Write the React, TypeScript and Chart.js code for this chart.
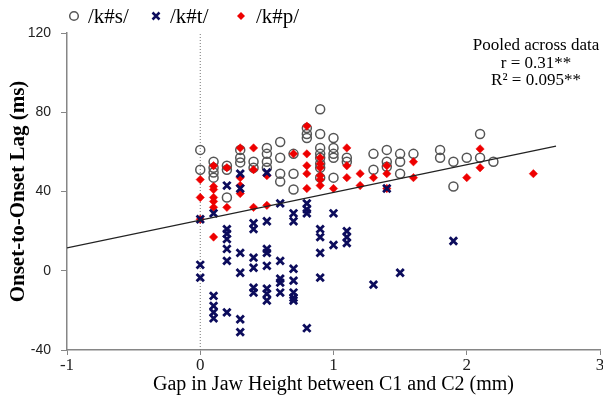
import React, { useEffect, useRef } from 'react';
import { Chart, registerables } from 'chart.js';
Chart.register(...registerables);

// /k#s/ (circles)
const sGap = [0, 0, 0.1, 0.1, 0.1, 0.1, 0.2, 0.2, 0.2, 0.3, 0.3, 0.3, 0.4, 0.4, 0.5, 0.5, 0.5, 0.5, 0.6, 0.6, 0.6, 0.6, 0.7, 0.7, 0.7, 0.8, 0.8, 0.8, 0.9, 0.9, 0.9, 0.9, 0.9, 0.9, 0.9, 0.9, 1.0, 1.0, 1.0, 1.0, 1.0, 1.1, 1.1, 1.3, 1.3, 1.4, 1.4, 1.4, 1.5, 1.5, 1.5, 1.6, 1.8, 1.8, 1.9, 1.9, 2.0, 2.1, 2.1, 2.2];
const sLag = [61, 51, 55, 52, 49.6, 47, 53, 51, 37, 61, 57, 54.7, 55, 52, 62, 59, 55, 52, 65, 57, 49, 45, 59, 49, 41, 72, 69, 67, 81.5, 69, 62, 59, 57, 54, 52, 47, 67, 62, 59, 57, 47, 57, 55, 59, 51, 61, 55, 52.5, 59, 55, 49, 59, 61, 57, 55, 42.5, 57, 69, 57, 55];

// /k#t/ (crosses)
const tGap = [0, 0, 0, 0.1, 0.1, 0.1, 0.1, 0.1, 0.2, 0.2, 0.2, 0.2, 0.2, 0.2, 0.2, 0.3, 0.3, 0.3, 0.3, 0.3, 0.3, 0.4, 0.4, 0.4, 0.4, 0.4, 0.4, 0.5, 0.5, 0.5, 0.5, 0.5, 0.5, 0.5, 0.5, 0.6, 0.6, 0.6, 0.6, 0.6, 0.7, 0.7, 0.7, 0.7, 0.7, 0.7, 0.7, 0.8, 0.8, 0.8, 0.8, 0.9, 0.9, 0.9, 0.9, 1.0, 1.0, 1.1, 1.1, 1.1, 1.3, 1.4, 1.5, 1.9];
const tLag = [26, 3, -3.5, 29, -12.7, -17.7, -21, -24, 43, 21, 18.7, 16, 11, 5, -21, 49, 41.5, 9, -1, -24.5, -31, 24, 21, 6.6, 1.5, -8.6, -11, 49.6, 25, 11, 9, 2.5, -9, -11.6, -15, 34, 5, -4, -6, -11, 29, 25, 1, -5, -11, -13.6, -15, 34, 31, 29, -29, 21, 17, 9, -3.5, 29, 13, 20, 17, 14, -7, 41.5, -1, 15];

// /k#p/ (diamonds)
const pGap = [0, 0, 0, 0.1, 0.1, 0.1, 0.1, 0.1, 0.1, 0.1, 0.2, 0.2, 0.3, 0.3, 0.3, 0.3, 0.4, 0.4, 0.4, 0.5, 0.5, 0.7, 0.8, 0.8, 0.8, 0.8, 0.8, 0.9, 0.9, 0.9, 0.9, 0.9, 0.9, 1.0, 1.1, 1.1, 1.1, 1.2, 1.2, 1.3, 1.4, 1.4, 1.4, 1.6, 1.6, 2.0, 2.1, 2.1, 2.5];
const pLag = [46, 37, 26, 53, 42.5, 41, 37, 35, 32, 17, 52, 32, 62, 47, 43, 39, 62, 51, 32, 48, 33, 59, 73, 59, 53, 49, 41.5, 57, 54, 52, 48, 46, 43, 41.5, 62, 53, 47, 49, 43, 47, 53, 49, 41.5, 55, 47, 47, 61.5, 52, 49];

// pooled regression line
const fitIntercept = 25.5;
const fitSlope = 14;
const fitRange = [-1, 2.67];

const xTicks = [-1, 0, 1, 2, 3];
const yTicks = [-40, 0, 40, 80, 120];

const seriesNames = ['/k#s/', '/k#t/', '/k#p/'];
const statLines = ['Pooled across data', 'r = 0.31**', 'R\u00B2 = 0.095**'];

const CIRCLE = '#555555';
const CROSS = '#0c0c5c';
const DIAMOND = '#ee0000';

const pts = (xs: number[], ys: number[]) => xs.map((x, i) => ({ x, y: ys[i] }));

const legendPlugin = {
  id: 'customLegend',
  afterDraw(chart: any) {
    const ctx = chart.ctx;
    ctx.save();
    ctx.font = '21px "Liberation Serif"';
    ctx.textBaseline = 'middle';
    ctx.textAlign = 'left';
    ctx.fillStyle = '#000';
    const cy = 16;
    const items = [
      { mx: 74, tx: 88, kind: 'circle' },
      { mx: 156, tx: 170, kind: 'cross' },
      { mx: 241, tx: 256, kind: 'diamond' },
    ];
    items.forEach((it, i) => {
      if (it.kind === 'circle') {
        ctx.beginPath();
        ctx.strokeStyle = CIRCLE;
        ctx.lineWidth = 1.5;
        ctx.arc(it.mx, cy, 4.3, 0, Math.PI * 2);
        ctx.stroke();
      } else if (it.kind === 'cross') {
        ctx.beginPath();
        ctx.strokeStyle = CROSS;
        ctx.lineWidth = 2.5;
        ctx.moveTo(it.mx - 3.5, cy - 3.5);
        ctx.lineTo(it.mx + 3.5, cy + 3.5);
        ctx.moveTo(it.mx + 3.5, cy - 3.5);
        ctx.lineTo(it.mx - 3.5, cy + 3.5);
        ctx.stroke();
      } else {
        ctx.beginPath();
        ctx.fillStyle = DIAMOND;
        ctx.moveTo(it.mx - 4, cy);
        ctx.lineTo(it.mx, cy - 4);
        ctx.lineTo(it.mx + 4, cy);
        ctx.lineTo(it.mx, cy + 4);
        ctx.closePath();
        ctx.fill();
      }
      ctx.fillStyle = '#000';
      ctx.fillText(seriesNames[i], it.tx, cy + 1);
    });
    // stats annotation
    ctx.font = '17px "Liberation Serif"';
    ctx.textAlign = 'center';
    const ax = 536;
    statLines.forEach((s, i) => ctx.fillText(s, ax, 46 + i * 17.5));
    ctx.restore();
  },
};

export default function App() {
  const ref = useRef<HTMLCanvasElement>(null);
  useEffect(() => {
    const fitData = fitRange.map((x) => ({ x, y: fitIntercept + fitSlope * x }));
    const chart = new Chart(ref.current!, {
      type: 'scatter',
      data: {
        datasets: [
          {
            label: seriesNames[1],
            data: pts(tGap, tLag),
            pointStyle: 'crossRot',
            radius: 5.2,
            borderWidth: 2.8,
            borderColor: CROSS,
            backgroundColor: CROSS,
            order: 0,
          },
          {
            label: seriesNames[2],
            data: pts(pGap, pLag),
            pointStyle: 'rectRot',
            radius: 4.2,
            borderWidth: 0.5,
            borderColor: DIAMOND,
            backgroundColor: DIAMOND,
            order: 1,
          },
          {
            label: seriesNames[0],
            data: pts(sGap, sLag),
            pointStyle: 'circle',
            radius: 4.5,
            borderWidth: 1.5,
            borderColor: CIRCLE,
            backgroundColor: 'rgba(0,0,0,0)',
            order: 2,
          },
          {
            label: 'fit',
            type: 'line',
            data: fitData,
            showLine: true,
            borderColor: '#222',
            borderWidth: 1.2,
            pointRadius: 0,
            order: -1,
          },
          {
            label: 'zero',
            type: 'line',
            data: [{ x: 0, y: -40 }, { x: 0, y: 120 }],
            showLine: true,
            borderColor: '#777',
            borderWidth: 1,
            borderDash: [1, 2],
            pointRadius: 0,
            order: 5,
          },
        ],
      },
      options: {
        animation: false,
        responsive: true,
        maintainAspectRatio: false,
        layout: { autoPadding: false, padding: { top: 33, right: 3, left: 0, bottom: 0 } },
        plugins: { legend: { display: false }, tooltip: { enabled: false } },
        scales: {
          x: {
            type: 'linear',
            min: -1,
            max: 3,
            afterBuildTicks: (s: any) => { s.ticks = xTicks.map((v) => ({ value: v })); },
            afterFit: (s: any) => { s.height = 50; s.paddingLeft = 0; s.paddingRight = 0; },
            grid: { drawOnChartArea: false, tickLength: 5, color: '#868686' },
            border: { color: '#868686', width: 1.5 },
            ticks: { font: { family: 'Liberation Serif', size: 17 }, color: '#222', padding: 0, maxRotation: 0 },
            title: { display: true, text: 'Gap in Jaw Height between C1 and C2 (mm)', font: { family: 'Liberation Serif', size: 20 }, color: '#000', padding: { top: 3, bottom: 3 } },
          },
          y: {
            type: 'linear',
            min: -40,
            max: 120,
            afterBuildTicks: (s: any) => { s.ticks = yTicks.map((v) => ({ value: v })); },
            afterFit: (s: any) => { s.width = 67; },
            grid: { drawOnChartArea: false, tickLength: 6, color: '#868686' },
            border: { color: '#868686', width: 1.5 },
            ticks: { font: { family: 'Liberation Sans', size: 14 }, color: '#222', padding: 10 },
            title: { display: true, text: 'Onset-to-Onset Lag (ms)', font: { family: 'Liberation Serif', size: 21, weight: 'bold' }, color: '#000', padding: { top: 6, bottom: 6 } },
          },
        },
      },
      plugins: [legendPlugin],
    } as any);
    return () => chart.destroy();
  }, []);
  return (
    <div style={{ position: 'absolute', left: 0, top: 0, width: 603, height: 400 }}>
      <canvas ref={ref} />
    </div>
  );
}
